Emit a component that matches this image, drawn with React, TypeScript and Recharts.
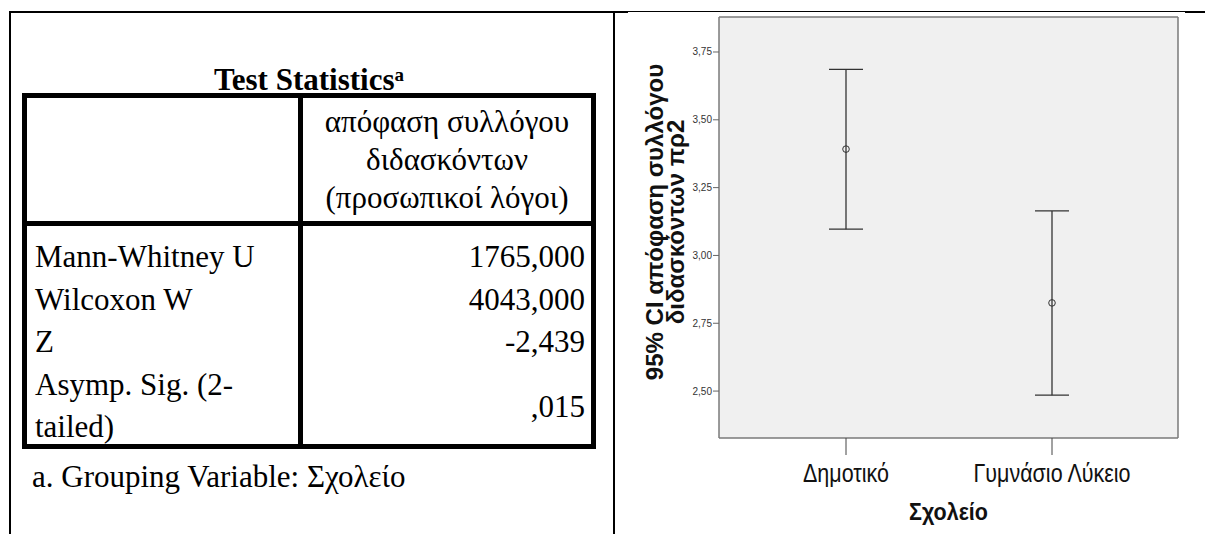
import React from 'react'
import { ComposedChart, Line, XAxis, YAxis, ErrorBar, CartesianGrid } from 'recharts'

// error bar chart: 95% CI per school type
const schools = ['Δημοτικό', 'Γυμνάσιο Λύκειο']
const ciMean = [3.392, 2.825]
const ciLower = [3.097, 2.485]
const ciUpper = [3.686, 3.164]
const yTicks = [2.5, 2.75, 3.0, 3.25, 3.5, 3.75]
const yRange = [2.327, 3.879]

// SPSS table on the left
const headerLines = ['απόφαση συλλόγου', 'διδασκόντων', '(προσωπικοί λόγοι)']
const statNames = ['Mann-Whitney U', 'Wilcoxon W', 'Z', 'Asymp. Sig. (2-', 'tailed)']
const statValues = ['1765,000', '4043,000', '-2,439', ',015']

const SERIF = '"Liberation Serif", "Times New Roman", serif'
const SANS = '"Liberation Sans", Arial, sans-serif'
const FRAME = { stroke: '#7a7a7a', strokeWidth: 1.5 }

const data = schools.map((s, i) => ({
  school: s,
  mean: ciMean[i],
  ci: [ciMean[i] - ciLower[i], ciUpper[i] - ciMean[i]],
}))

const fmt = (v: number) => v.toFixed(2).replace('.', ',')

const Bar = ({ l, t, w, h }: { l: number; t: number; w: number; h: number }) => (
  <div style={{ position: 'absolute', left: l, top: t, width: w, height: h, background: '#000' }} />
)

const YTick = (p: any) => (
  <text x={p.x} y={p.y} dy={3.5} textAnchor="end" fontSize={10} fill="#333" fontFamily={SANS}>
    {fmt(p.payload.value)}
  </text>
)

// SPSS labels look slightly tall and narrow
const XTick = (p: any) => (
  <text transform={`translate(${p.x} ${p.y + 25}) scale(1 1.22)`} textAnchor="middle" fontSize={21.5} fill="#111" fontFamily={SANS}>
    {p.payload.value}
  </text>
)

const XTitle = (p: any) => {
  const vb = p.viewBox
  return (
    <text transform={`translate(${vb.x + vb.width / 2} ${vb.y + 82}) scale(1 1.08)`} textAnchor="middle" fontSize={21.5}
      fontWeight="bold" fill="#111" fontFamily={SANS}>
      Σχολείο
    </text>
  )
}

const YTitle = (p: any) => {
  const vb = p.viewBox
  const cy = vb.y + vb.height / 2 - 5.5
  const lines = ['95% CI απόφαση συλλόγου', 'διδασκόντων πρ2']
  return (
    <g>
      {lines.map((t, i) => {
        const cx = vb.x - 5 + i * 21
        return (
          <text key={i} x={cx} y={cy} transform={`rotate(-90 ${cx} ${cy})`} textAnchor="middle"
            dominantBaseline="central" fontSize={24} fontWeight="bold" fill="#111" fontFamily={SANS}>
            {t}
          </text>
        )
      })}
    </g>
  )
}

export default function App() {
  return (
    <div style={{ position: 'absolute', left: 0, top: 0, width: 1205, height: 534, background: '#fff', overflow: 'hidden' }}>
      {/* document table frame */}
      <Bar l={9} t={11} w={619} h={2} />
      <div style={{ position: 'absolute', left: 628, top: 11, width: 557, height: 1, background: '#000' }} />
      <Bar l={1185} t={11} w={20} h={2} />
      <Bar l={9} t={11} w={2} h={523} />
      <Bar l={613} t={11} w={2} h={523} />

      {/* title */}
      <div style={{ position: 'absolute', left: 22, top: 57, width: 574, textAlign: 'center', font: `bold 31px ${SERIF}`, lineHeight: '36px' }}>
        Test Statistics<sup style={{ fontSize: 19, verticalAlign: 9 }}>a</sup>
      </div>

      {/* stats table borders */}
      <Bar l={22} t={93} w={574} h={5} />
      <Bar l={22} t={444} w={574} h={5} />
      <Bar l={22} t={93} w={5} h={356} />
      <Bar l={591} t={93} w={5} h={356} />
      <Bar l={298} t={93} w={5} h={356} />
      <Bar l={22} t={221} w={574} h={5} />

      <div style={{ position: 'absolute', left: 303, top: 103, width: 288, textAlign: 'center', font: `31px ${SERIF}`, lineHeight: '38px' }}>
        {headerLines.map(t => <div key={t}>{t}</div>)}
      </div>
      <div style={{ position: 'absolute', left: 35, top: 236, font: `31px ${SERIF}`, lineHeight: '42.5px', whiteSpace: 'pre' }}>
        {statNames.map(t => <div key={t}>{t}</div>)}
      </div>
      <div style={{ position: 'absolute', left: 303, top: 236, width: 282, textAlign: 'right', font: `31px ${SERIF}`, lineHeight: '42.5px' }}>
        {statValues.slice(0, 3).map(t => <div key={t}>{t}</div>)}
        <div style={{ lineHeight: '85px' }}>{statValues[3]}</div>
      </div>
      <div style={{ position: 'absolute', left: 32, top: 459, font: `31px ${SERIF}`, lineHeight: '36px', whiteSpace: 'pre' }}>
        a. Grouping Variable: Σχολείο
      </div>

      {/* SPSS error bar chart */}
      <div style={{ position: 'absolute', left: 620, top: 0 }}>
        <ComposedChart width={585} height={534} data={data} margin={{ top: 16, right: 26, bottom: 0, left: 39 }}>
          <CartesianGrid horizontal={false} vertical={false} fill="#f0f0f0" />
          <XAxis dataKey="school" height={96} padding={{ left: 127, right: 126 }} interval={0}
            axisLine={FRAME} tickLine={{ stroke: '#444' }} tickSize={17} tick={<XTick />}
            label={{ content: <XTitle /> } as any} />
          <XAxis xAxisId="top" dataKey="school" orientation="top" height={1} padding={{ left: 127, right: 126 }}
            axisLine={FRAME} tick={false} tickLine={false} />
          <YAxis type="number" domain={yRange} ticks={yTicks} width={60} allowDataOverflow axisLine={FRAME}
            tickLine={{ stroke: '#666' }} tickSize={6} tickMargin={1} tick={<YTick />}
            label={{ content: <YTitle /> } as any} />
          <YAxis yAxisId="right" type="number" orientation="right" domain={yRange} width={1} allowDataOverflow
            axisLine={FRAME} tick={false} tickLine={false} />
          <Line dataKey="mean" stroke="none" isAnimationActive={false} activeDot={false}
            dot={{ r: 3.3, fill: 'none', stroke: '#333', strokeWidth: 1 }}>
            <ErrorBar dataKey="ci" width={17} stroke="#333" strokeWidth={1.3} direction="y" isAnimationActive={false} />
          </Line>
        </ComposedChart>
      </div>
    </div>
  )
}
